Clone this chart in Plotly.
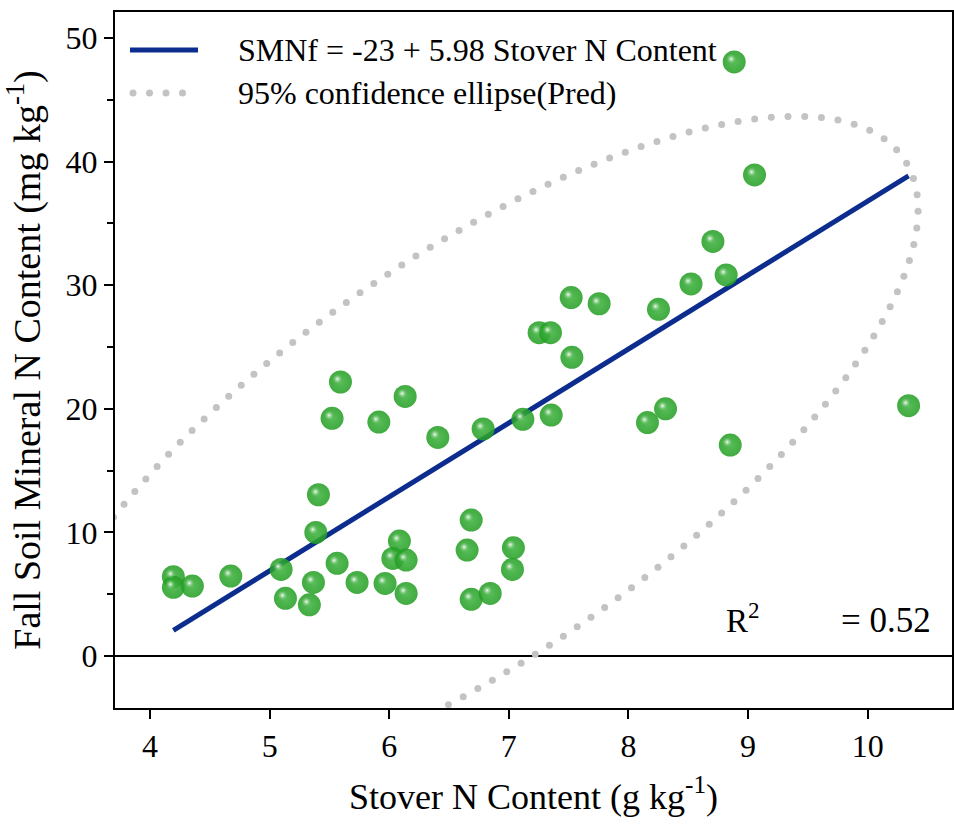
import numpy as np
import plotly.graph_objects as go

# Stover N content (g/kg) and fall soil mineral N (mg/kg) per plot
stover_n = [4.195, 4.195, 4.354, 4.675, 5.408, 5.386, 5.096, 5.366, 5.132, 5.332,
            5.564, 5.731, 5.965, 6.085, 6.030, 6.141, 6.141, 6.685, 6.651, 6.685,
            6.844, 7.038, 7.030, 5.592, 5.522, 5.913, 6.133, 6.406, 6.785, 7.521,
            7.755, 8.251, 7.253, 7.348, 7.527, 7.117, 7.354, 8.159, 8.310, 8.851,
            8.706, 8.523, 8.817, 10.342, 8.884, 9.054]
fall_smn = [6.42, 5.56, 5.66, 6.47, 13.05, 10.0, 7.01, 5.96, 4.67, 4.15,
            7.50, 5.96, 5.88, 9.30, 7.90, 7.77, 5.07, 11.0, 8.58, 4.59,
            5.07, 8.76, 7.01, 22.17, 19.23, 18.93, 21.0, 17.69, 18.37, 29.0,
            28.5, 28.05, 26.16, 26.16, 24.17, 19.15, 19.50, 18.89, 20.0, 17.07,
            33.54, 30.10, 30.83, 20.25, 48.06, 38.92]

# Regression model reported in the legend
fit_intercept = -23
fit_slope = 5.98
r_squared = 0.52

x_ticks = [4, 5, 6, 7, 8, 9, 10]
y_ticks = [0, 10, 20, 30, 40, 50]

# Page / plot-area geometry (pixels)
W, H = 954, 829
M_L, M_R, M_T, M_B = 115, 2, 12, 121
PLOT_W, PLOT_H = W - M_L - M_R, H - M_T - M_B
X_RANGE = [3.707, 10.705]
Y_RANGE = [-4.2, 52.1]

FONT = "Liberation Serif, Times New Roman, serif"
GREEN = "rgba(34,157,34,0.86)"
NAVY = "#0c2d8e"
GREY = "#c3c3c3"


def paper_x(px):
    return (px - M_L) / PLOT_W


def paper_y(py):
    return (H - M_B - py) / PLOT_H


x = np.asarray(stover_n)
y = np.asarray(fall_smn)
n = len(x)

# 95% prediction ellipse from the sample mean and covariance
mean = np.array([x.mean(), y.mean()])
cov = np.cov(x, y)
f95 = (n - 2) / 2 * (0.05 ** (-2 / (n - 2)) - 1)          # F(0.95; 2, n-2)
k2 = 2 * (n + 1) * (n - 1) / (n * (n - 2)) * f95
vals, vecs = np.linalg.eigh(cov)
t = np.linspace(0, 2 * np.pi, 6000)
ell = mean[:, None] + vecs @ (np.sqrt(k2 * vals)[:, None] * np.vstack([np.cos(t), np.sin(t)]))

# place round dots at an even on-screen spacing along the ellipse
sx = PLOT_W / (X_RANGE[1] - X_RANGE[0])
sy = PLOT_H / (Y_RANGE[1] - Y_RANGE[0])
seg = np.hypot(np.diff(ell[0]) * sx, np.diff(ell[1]) * sy)
arc = np.concatenate([[0], np.cumsum(seg)])
DOT_GAP = 16.7
n_dots = int(arc[-1] // DOT_GAP)
targets = np.linspace(0, arc[-1], n_dots, endpoint=False)
ell_x = np.interp(targets, arc, ell[0])
ell_y = np.interp(targets, arc, ell[1])

# fitted line over the observed stover N range
line_x = np.array([x.min(), x.max()])
line_y = fit_intercept + fit_slope * line_x

fig = go.Figure()

fig.add_trace(go.Scatter(
    x=ell_x, y=ell_y, mode="markers",
    marker=dict(size=7, color=GREY, line=dict(width=0)),
    hoverinfo="skip", showlegend=False))

fig.add_trace(go.Scatter(
    x=line_x, y=line_y, mode="lines",
    line=dict(color=NAVY, width=5), showlegend=False))

fig.add_trace(go.Scatter(
    x=x, y=y, mode="markers",
    marker=dict(size=23, color=GREEN, line=dict(width=0),
                gradient=dict(type="radial", color="rgba(70,182,70,0.9)")),
    showlegend=False))

# glossy highlight on each sphere, nudged up and to the left
hl_dx = -3.0 / sx
hl_dy = 3.0 / sy
fig.add_trace(go.Scatter(
    x=x + hl_dx, y=y + hl_dy, mode="markers",
    marker=dict(size=10, color="rgba(120,200,120,0)", line=dict(width=0),
                gradient=dict(type="radial", color="rgba(255,255,255,0.95)")),
    hoverinfo="skip", showlegend=False))

# legend drawn in the top-left corner
legend_font = dict(family=FONT, size=32, color="black")
shapes = [dict(type="line", xref="paper", yref="paper",
               x0=paper_x(130), x1=paper_x(198), y0=paper_y(50), y1=paper_y(50),
               line=dict(color=NAVY, width=5))]
for cx in [133, 149.5, 166, 182.5]:
    shapes.append(dict(type="circle", xref="paper", yref="paper",
                       x0=paper_x(cx - 3.5), x1=paper_x(cx + 3.5),
                       y0=paper_y(93 + 3.5), y1=paper_y(93 - 3.5),
                       fillcolor=GREY, line=dict(width=0)))

annotations = [
    dict(text=f"SMNf = {fit_intercept:g} + {fit_slope:g} Stover N Content",
         xref="paper", yref="paper", x=paper_x(236), y=paper_y(50),
         xanchor="left", yanchor="middle", showarrow=False, font=legend_font),
    dict(text="95% confidence ellipse(Pred)",
         xref="paper", yref="paper", x=paper_x(236), y=paper_y(93),
         xanchor="left", yanchor="middle", showarrow=False, font=legend_font),
    dict(text="R<sup>2</sup>", xref="paper", yref="paper",
         x=paper_x(724), y=paper_y(618), xanchor="left", yanchor="middle",
         showarrow=False, font=dict(family=FONT, size=33, color="black")),
    dict(text=f"= {r_squared:.2f}", xref="paper", yref="paper",
         x=paper_x(933), y=paper_y(620), xanchor="right", yanchor="middle",
         showarrow=False, font=dict(family=FONT, size=35, color="black")),
]

axis_common = dict(showline=True, linecolor="black", linewidth=2, mirror=True,
                   showgrid=False, ticks="outside", tickcolor="black",
                   tickwidth=2, ticklen=9,
                   tickfont=dict(family=FONT, size=32, color="black"))

fig.update_layout(
    width=W, height=H,
    margin=dict(l=M_L, r=M_R, t=M_T, b=M_B, autoexpand=False),
    paper_bgcolor="white", plot_bgcolor="white",
    shapes=shapes, annotations=annotations,
    xaxis=dict(range=X_RANGE, tickvals=x_ticks, zeroline=False,
               title=dict(text="Stover N Content (g kg<sup>-1</sup>)",
                          font=dict(family=FONT, size=36, color="black"),
                          standoff=20),
               **axis_common),
    yaxis=dict(range=Y_RANGE, tickvals=y_ticks,
               zeroline=True, zerolinecolor="black", zerolinewidth=2,
               minor=dict(dtick=5, ticks="outside", ticklen=6,
                          tickcolor="black", tickwidth=2),
               title=dict(text="Fall Soil Mineral N Content (mg kg<sup>-1</sup>)",
                          font=dict(family=FONT, size=38, color="black"),
                          standoff=14),
               **axis_common),
)

fig.write_html("out.html")
